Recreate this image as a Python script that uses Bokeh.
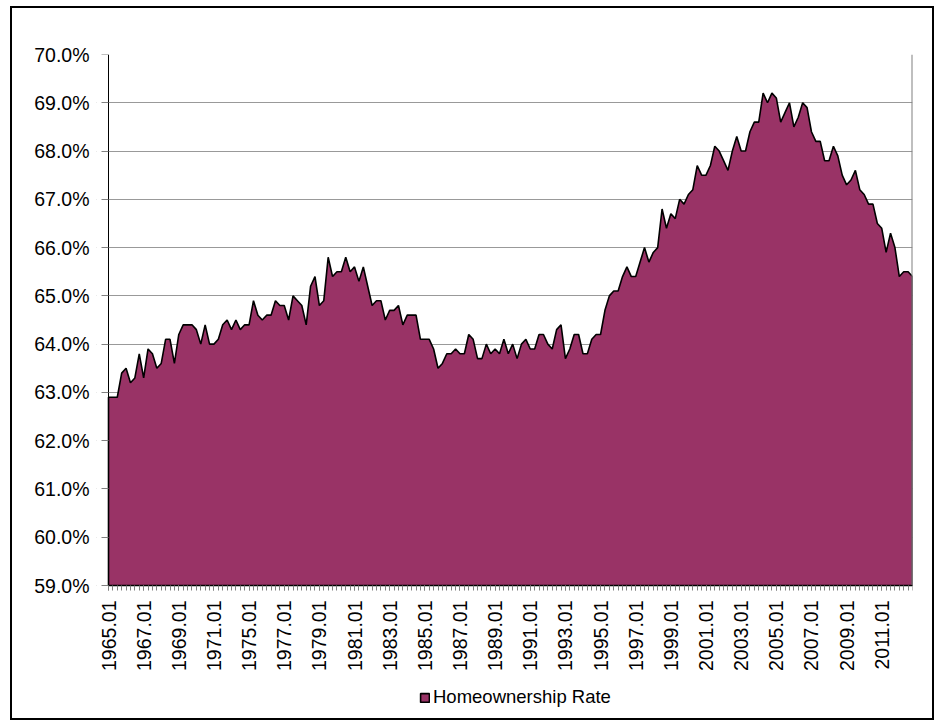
import math
from bokeh.plotting import figure
from bokeh.models import (Range1d, FixedTicker, Legend, LegendItem,
                          PrintfTickFormatter, LinearAxis, BoxAnnotation)
from bokeh.embed import file_html
from bokeh.resources import INLINE

# ---- data -------------------------------------------------------------
years = [1965, 1966, 1967, 1968, 1969, 1970, 1971,
         1974, 1975, 1976, 1977, 1978, 1979, 1980, 1981, 1982, 1983, 1984,
         1985, 1986, 1987, 1988, 1989, 1990, 1991, 1992, 1993, 1994, 1995,
         1996, 1997, 1998, 1999, 2000, 2001, 2002, 2003, 2004, 2005, 2006,
         2007, 2008, 2009, 2010, 2011, 2012]
quarters = ["01", "02", "03", "04"]

rate = [
    62.9, 62.9, 62.9, 63.4,   # 1965
    63.5, 63.2, 63.3, 63.8,   # 1966
    63.3, 63.9, 63.8, 63.5,   # 1967
    63.6, 64.1, 64.1, 63.6,   # 1968
    64.2, 64.4, 64.4, 64.4,   # 1969
    64.3, 64.0, 64.4, 64.0,   # 1970
    64.0, 64.1, 64.4, 64.5,   # 1971
    64.3, 64.5, 64.3, 64.4,   # 1974
    64.4, 64.9, 64.6, 64.5,   # 1975
    64.6, 64.6, 64.9, 64.8,   # 1976
    64.8, 64.5, 65.0, 64.9,   # 1977
    64.8, 64.4, 65.2, 65.4,   # 1978
    64.8, 64.9, 65.8, 65.4,   # 1979
    65.5, 65.5, 65.8, 65.5,   # 1980
    65.6, 65.3, 65.6, 65.2,   # 1981
    64.8, 64.9, 64.9, 64.5,   # 1982
    64.7, 64.7, 64.8, 64.4,   # 1983
    64.6, 64.6, 64.6, 64.1,   # 1984
    64.1, 64.1, 63.9, 63.5,   # 1985
    63.6, 63.8, 63.8, 63.9,   # 1986
    63.8, 63.8, 64.2, 64.1,   # 1987
    63.7, 63.7, 64.0, 63.8,   # 1988
    63.9, 63.8, 64.1, 63.8,   # 1989
    64.0, 63.7, 64.0, 64.1,   # 1990
    63.9, 63.9, 64.2, 64.2,   # 1991
    64.0, 63.9, 64.3, 64.4,   # 1992
    63.7, 63.9, 64.2, 64.2,   # 1993
    63.8, 63.8, 64.1, 64.2,   # 1994
    64.2, 64.7, 65.0, 65.1,   # 1995
    65.1, 65.4, 65.6, 65.4,   # 1996
    65.4, 65.7, 66.0, 65.7,   # 1997
    65.9, 66.0, 66.8, 66.4,   # 1998
    66.7, 66.6, 67.0, 66.9,   # 1999
    67.1, 67.2, 67.7, 67.5,   # 2000
    67.5, 67.7, 68.1, 68.0,   # 2001
    67.8, 67.6, 68.0, 68.3,   # 2002
    68.0, 68.0, 68.4, 68.6,   # 2003
    68.6, 69.2, 69.0, 69.2,   # 2004
    69.1, 68.6, 68.8, 69.0,   # 2005
    68.5, 68.7, 69.0, 68.9,   # 2006
    68.4, 68.2, 68.2, 67.8,   # 2007
    67.8, 68.1, 67.9, 67.5,   # 2008
    67.3, 67.4, 67.6, 67.2,   # 2009
    67.1, 66.9, 66.9, 66.5,   # 2010
    66.4, 65.9, 66.3, 66.0,   # 2011
    65.4, 65.5, 65.5, 65.4,   # 2012
]

y_ticks = [59, 60, 61, 62, 63, 64, 65, 66, 67, 68, 69, 70]
series_name = "Homeownership Rate"

# ---- derived ----------------------------------------------------------
periods = [f"{y}.{q}" for y in years for q in quarters]
xs = list(range(len(periods)))
y_min, y_max = y_ticks[0], y_ticks[-1]
label_step = 8

FONT = "Liberation Sans"
FS_AXIS = "19.5px"
FS_LEG = "18.5px"

# layout (pixels). Plotting area 804 x 531. The frame is extended 12 px to the
# left and downward so the category labels and legend are drawn inside it.
CANVAS_W, CANVAS_H = 920, 710
PLOT_LEFT, TOP, PLOT_W, PLOT_H = 96, 46, 804, 531
PAD_L = 12
FRAME_LEFT = PLOT_LEFT - PAD_L
FRAME_W = PLOT_W + PAD_L
FRAME_H = CANVAS_H - TOP - 4
y_per_px = (y_max - y_min) / PLOT_H
x_per_px = (xs[-1] - xs[0]) / PLOT_W
y_low = y_min - (FRAME_H - PLOT_H) * y_per_px
x_low = xs[0] - PAD_L * x_per_px

p = figure(width=CANVAS_W, height=CANVAS_H, output_backend="svg", toolbar_location=None,
           x_range=Range1d(x_low, xs[-1]), y_range=Range1d(y_low, y_max),
           frame_width=FRAME_W, frame_height=FRAME_H,
           min_border_left=FRAME_LEFT, min_border_right=CANVAS_W - FRAME_LEFT - FRAME_W,
           min_border_top=TOP, min_border_bottom=4,
           x_axis_location=None,
           background_fill_color="white", border_fill_color="white",
           outline_line_color=None)
p.styles = {"margin-left": "10px", "margin-top": "6px",
            "border": "2px solid black", "box-sizing": "content-box"}

# horizontal gridlines (only right of the value axis)
p.ygrid.ticker = FixedTicker(ticks=y_ticks)
p.ygrid.grid_line_color = "#999999"
p.add_layout(BoxAnnotation(left=x_low, right=xs[0],
                           bottom=y_min - 3 * y_per_px, top=y_max + 3 * y_per_px,
                           fill_color="white", fill_alpha=1.0, line_color=None,
                           level="underlay"))

# area (closed polygon down to the axis floor)
px = [xs[0]] + xs + [xs[-1]]
py = [y_min] + rate + [y_min]
area = p.patch(px, py, fill_color="#993366", line_color="black", line_width=1.6)

# right edge of the plotting area
p.segment(x0=[xs[-1]], y0=[y_min], x1=[xs[-1]], y1=[y_max],
          line_color="#808080", line_width=2)

# value-axis labels (side panel, not clipped)
p.yaxis.ticker = FixedTicker(ticks=y_ticks)
p.yaxis.formatter = PrintfTickFormatter(format="%.1f%%")
p.yaxis.axis_line_color = None
p.yaxis.major_tick_line_color = None
p.yaxis.major_tick_in = 0
p.yaxis.major_tick_out = 0
p.yaxis.minor_tick_out = 0
p.yaxis.minor_tick_in = 0
p.yaxis.major_label_standoff = 7
p.yaxis.major_label_text_font = FONT
p.yaxis.major_label_text_font_size = FS_AXIS
p.yaxis.major_label_text_color = "black"

# value-axis line and ticks, pinned at the first category
yline = LinearAxis(fixed_location=xs[0], bounds=(y_min, y_max),
                   ticker=FixedTicker(ticks=y_ticks),
                   major_label_overrides={t: "" for t in y_ticks},
                   major_tick_in=0, major_tick_out=7,
                   minor_tick_in=0, minor_tick_out=0,
                   major_tick_line_color="#808080", axis_line_color="black")
p.add_layout(yline, "left")

# category axis, pinned at the value-axis floor
xaxis = LinearAxis(fixed_location=y_min, bounds=(xs[0], xs[-1]),
                   ticker=FixedTicker(ticks=xs[::label_step], minor_ticks=xs),
                   major_label_overrides={i: periods[i] for i in xs[::label_step]},
                   major_label_orientation=math.pi / 2,
                   major_tick_in=0, major_tick_out=5,
                   minor_tick_in=0, minor_tick_out=5,
                   major_tick_line_color="#808080", minor_tick_line_color="#808080",
                   axis_line_color="black", major_label_standoff=10,
                   major_label_text_font=FONT, major_label_text_font_size=FS_AXIS,
                   major_label_text_color="black")
p.add_layout(xaxis, "below")
for g in p.xgrid:
    g.grid_line_color = None

# legend, placed in screen pixels from the frame's bottom-left corner
legend = Legend(items=[LegendItem(label=series_name, renderers=[area])],
                location=(419 - 12 - FRAME_LEFT, 6), orientation="horizontal",
                border_line_color=None, background_fill_alpha=0,
                label_text_font=FONT, label_text_font_size=FS_LEG,
                label_text_color="black",
                glyph_width=11, glyph_height=11, label_standoff=3,
                padding=0, margin=0, spacing=0)
p.add_layout(legend, "center")

open("out.html", "w").write(file_html(p, INLINE))
